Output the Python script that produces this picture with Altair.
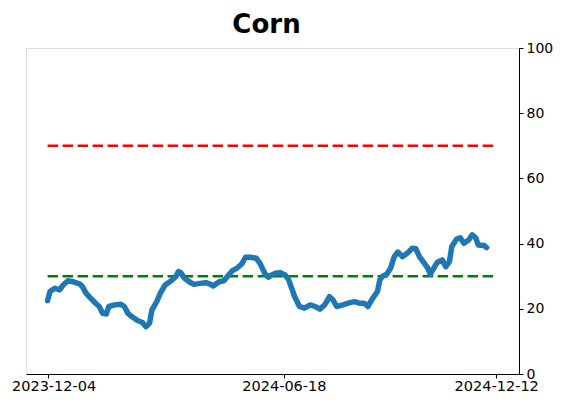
import altair as alt
import pandas as pd

dates = [
    "2023-12-04", "2023-12-06", "2023-12-10", "2023-12-14", "2023-12-17", "2023-12-21",
    "2023-12-25", "2023-12-31", "2024-01-02", "2024-01-05", "2024-01-09", "2024-01-13",
    "2024-01-16", "2024-01-19", "2024-01-22", "2024-01-24", "2024-01-29", "2024-02-03",
    "2024-02-06", "2024-02-09", "2024-02-13", "2024-02-17", "2024-02-21", "2024-02-24",
    "2024-02-27", "2024-02-29", "2024-03-04", "2024-03-07", "2024-03-11", "2024-03-16",
    "2024-03-20", "2024-03-22", "2024-03-24", "2024-03-27", "2024-03-31", "2024-04-04",
    "2024-04-09", "2024-04-14", "2024-04-18", "2024-04-20", "2024-04-25", "2024-04-29",
    "2024-05-03", "2024-05-06", "2024-05-10", "2024-05-14", "2024-05-17", "2024-05-21",
    "2024-05-26", "2024-05-29", "2024-06-02", "2024-06-05", "2024-06-08", "2024-06-11",
    "2024-06-15", "2024-06-19", "2024-06-22", "2024-06-24", "2024-06-27", "2024-07-01",
    "2024-07-05", "2024-07-10", "2024-07-14", "2024-07-18", "2024-07-22", "2024-07-26",
    "2024-07-29", "2024-08-01", "2024-08-06", "2024-08-12", "2024-08-16", "2024-08-20",
    "2024-08-24", "2024-08-27", "2024-08-31", "2024-09-04", "2024-09-06", "2024-09-08",
    "2024-09-12", "2024-09-15", "2024-09-18", "2024-09-21", "2024-09-25", "2024-09-29",
    "2024-10-03", "2024-10-06", "2024-10-09", "2024-10-13", "2024-10-16", "2024-10-18",
    "2024-10-21", "2024-10-24", "2024-10-28", "2024-10-31", "2024-11-03", "2024-11-05",
    "2024-11-09", "2024-11-12", "2024-11-15", "2024-11-19", "2024-11-22", "2024-11-25",
    "2024-11-27", "2024-12-02", "2024-12-04",
]
values = [
    22.5, 25.3, 26.3, 25.8, 27.3, 28.6, 28.3, 27.6, 26.8, 24.8, 23.2, 21.7,
    20.7, 18.6, 18.4, 20.7, 21.2, 21.4, 20.7, 18.6, 17.4, 16.4, 15.8, 14.5,
    15.6, 19.7, 22.2, 24.8, 27.3, 28.6, 29.9, 31.4, 31.1, 29.4, 28.3, 27.5,
    27.8, 28.0, 27.5, 27.0, 28.3, 28.6, 30.4, 31.7, 32.5, 33.8, 35.8, 35.8,
    35.5, 34.0, 30.9, 29.7, 30.4, 30.9, 31.1, 30.4, 28.9, 26.8, 23.7, 20.7,
    20.2, 21.2, 20.7, 19.9, 21.2, 23.7, 22.7, 20.7, 21.2, 21.9, 22.2, 21.7,
    21.7, 20.7, 23.2, 25.3, 28.9, 29.9, 30.7, 32.5, 36.0, 37.4, 36.0, 37.1,
    38.6, 38.4, 36.0, 34.0, 32.5, 30.6, 32.5, 34.3, 35.0, 32.9, 34.5, 39.1,
    41.4, 41.8, 40.1, 41.1, 42.7, 41.7, 39.6, 39.4, 38.8,
]
ref_levels = [70, 30]
ref_colors = ["#ff0000", "#008000"]
ref_start = "2023-12-04T00:00:00"
ref_end = "2024-12-12T00:00:00"
tick_labels = ["2023-12-04", "2024-06-18", "2024-12-12"]
y_ticks = [0, 20, 40, 60, 80, 100]


def dt(s):
    y, m, d = (int(p) for p in s.split("-"))
    return alt.DateTime(year=y, month=m, date=d)


series = pd.DataFrame({"date": [d + "T00:00:00" for d in dates], "value": values})
refs = pd.DataFrame({
    "level": ref_levels,
    "color": ref_colors,
    "start": [ref_start] * len(ref_levels),
    "end": [ref_end] * len(ref_levels),
})

x_scale = alt.Scale(domain=[dt("2023-11-16"), dt("2024-12-31")])
y_scale = alt.Scale(domain=[0, 100], nice=False, zero=False)

x_axis = alt.Axis(
    values=[dt(t) for t in tick_labels], format="%Y-%m-%d", title=None,
    labelFontSize=14.5, labelFont="DejaVu Sans", labelColor="black",
    tickSize=4, tickColor="black", domainColor="black", labelPadding=1,
    grid=False, labelOverlap=False, labelFlush=False,
    labelOffset={"condition": {"test": "datum.index == 0", "value": 6}, "value": 0},
)
y_axis = alt.Axis(
    orient="right", values=y_ticks, title=None,
    labelFontSize=14, labelFont="DejaVu Sans", labelColor="black",
    tickSize=4, tickColor="black", domainColor="black", labelPadding=3,
    grid=False,
)

line = alt.Chart(series).mark_line(
    color="#1f77b4", strokeWidth=5.5, strokeJoin="round", strokeCap="round"
).encode(
    x=alt.X("date:T", scale=x_scale, axis=x_axis),
    y=alt.Y("value:Q", scale=y_scale, axis=y_axis),
)

rules = alt.Chart(refs).mark_rule(strokeWidth=2.5, strokeDash=[10.5, 4.5]).encode(
    x=alt.X("start:T", scale=x_scale),
    x2="end:T",
    y=alt.Y("level:Q", scale=y_scale),
    color=alt.Color("color:N", scale=None),
)

chart = alt.layer(rules, line).properties(
    width=493,
    height=326,
    title=alt.TitleParams(
        "Corn", fontSize=26, font="DejaVu Sans", fontWeight="bold", color="black",
        anchor="middle", dx=-6, offset=3,
    ),
    autosize=alt.AutoSizeParams(type="none"),
    padding={"left": 18, "top": 40, "right": 35, "bottom": 20},
).configure_view(stroke="black", strokeWidth=1).configure(background="white")

chart.save("out.html", embed_options={"renderer": "svg", "actions": False})
